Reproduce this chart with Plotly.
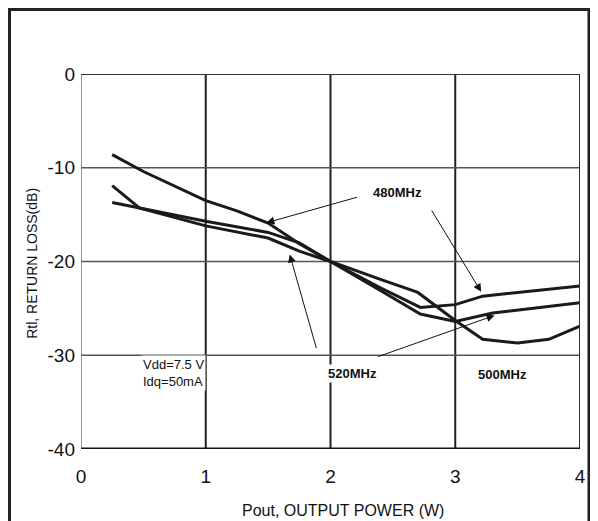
import plotly.graph_objects as go

# ---- data ----
x_480 = [0.25, 0.5, 1.0, 1.25, 1.5, 1.75, 2.0, 2.4, 2.72, 3.0, 3.22, 4.0]
y_480 = [-8.6, -10.4, -13.5, -14.6, -15.9, -18.1, -20.0, -22.8, -24.9, -24.6, -23.7, -22.6]

x_500 = [0.25, 0.47, 1.0, 1.5, 1.75, 2.0, 2.4, 2.7, 3.0, 3.22, 3.5, 3.75, 4.0]
y_500 = [-11.9, -14.3, -15.7, -16.9, -18.0, -20.0, -21.9, -23.3, -26.3, -28.3, -28.7, -28.3, -26.9]

x_520 = [0.25, 0.47, 1.0, 1.5, 1.75, 2.0, 2.4, 2.72, 3.0, 3.3, 4.0]
y_520 = [-13.7, -14.3, -16.2, -17.5, -18.9, -20.0, -23.1, -25.6, -26.4, -25.5, -24.4]

x_ticks = [0, 1, 2, 3, 4]
y_ticks = [0, -10, -20, -30, -40]

FONT = "Arial, Liberation Sans, sans-serif"
LINE = "#1a1a1a"

fig = go.Figure()
for xs, ys, name in [(x_480, y_480, "480MHz"), (x_500, y_500, "500MHz"), (x_520, y_520, "520MHz")]:
    fig.add_trace(go.Scatter(x=xs, y=ys, mode="lines", name=name,
                             line=dict(color=LINE, width=3), showlegend=False))

fig.update_xaxes(range=[0, 4], tickvals=x_ticks, ticktext=[str(v) for v in x_ticks],
                 showgrid=False, zeroline=False, showline=False, ticks="",
                 ticklabelstandoff=14,
                 tickfont=dict(family=FONT, size=19, color="#111"))
fig.update_yaxes(range=[-40, 0], tickvals=y_ticks, ticktext=[str(v) for v in y_ticks],
                 showgrid=False, zeroline=False, showline=False, ticks="",
                 ticklabelstandoff=5,
                 tickfont=dict(family=FONT, size=19, color="#111"))

shapes = []
# grid lines
for gx in [1, 2, 3]:
    shapes.append(dict(type="line", xref="x", yref="y", x0=gx, x1=gx, y0=-40, y1=0,
                       line=dict(color="#222", width=2), layer="below"))
for gy in [-10, -20, -30]:
    shapes.append(dict(type="line", xref="x", yref="y", x0=0, x1=4, y0=gy, y1=gy,
                       line=dict(color="#555", width=1.5), layer="below"))
# plot borders
shapes.append(dict(type="line", xref="x", yref="y", x0=0, x1=0, y0=-40, y1=0,
                   line=dict(color="#777", width=1.5)))
shapes.append(dict(type="line", xref="x", yref="y", x0=4, x1=4, y0=-40, y1=0,
                   line=dict(color="#333", width=2)))
shapes.append(dict(type="line", xref="x", yref="y", x0=0, x1=4, y0=0, y1=0,
                   line=dict(color="#333", width=2)))
shapes.append(dict(type="line", xref="x", yref="y", x0=0, x1=4, y0=-40, y1=-40,
                   line=dict(color="#111", width=3)))
# outer frame
shapes.append(dict(type="rect", xref="paper", yref="paper", x0=-0.1433, x1=1.018,
                   y0=-0.3, y1=1.172, line=dict(color="#222", width=3)))

annotations = []
lab_font_b = dict(family=FONT, size=13, color="#111")
annotations += [
    dict(x=2.535, y=-12.6, xref="x", yref="y", text="<b>480MHz</b>", showarrow=False,
         font=lab_font_b, bgcolor="white"),
    dict(x=2.18, y=-31.9, xref="x", yref="y", text="<b>520MHz</b>", showarrow=False,
         font=lab_font_b, bgcolor="white"),
    dict(x=3.38, y=-32.1, xref="x", yref="y", text="<b>500MHz</b>", showarrow=False,
         font=lab_font_b, bgcolor="white"),
    dict(x=0.48, y=-31.85, xref="x", yref="y", xanchor="left",
         text="Vdd=7.5 V<br>Idq=50mA", showarrow=False, align="left",
         font=dict(family=FONT, size=13, color="#111"), bgcolor="white"),
]
# arrows (head at x,y ; tail at ax,ay)
for hx, hy, tx, ty in [(1.486, -15.87, 2.225, -13.1),
                       (3.208, -23.24, 2.804, -14.4),
                       (1.673, -19.25, 1.89, -29.4),
                       (3.315, -25.75, 2.37, -30.2)]:
    annotations.append(dict(x=hx, y=hy, ax=tx, ay=ty, xref="x", yref="y",
                            axref="x", ayref="y", text="", showarrow=True,
                            arrowhead=2, arrowsize=1.6, arrowwidth=1, arrowcolor="#111"))
# axis titles
annotations.append(dict(x=0.525, y=-0.163, xref="paper", yref="paper",
                        xanchor="center", yanchor="middle",
                        text="Pout, OUTPUT POWER (W)", showarrow=False,
                        font=dict(family=FONT, size=16, color="#111")))
annotations.append(dict(x=-0.0972, y=0.495, xref="paper", yref="paper",
                        xanchor="center", yanchor="middle",
                        text="Rtl, RETURN LOSS(dB)", showarrow=False, textangle=-90,
                        font=dict(family=FONT, size=14, color="#111")))

fig.update_layout(width=590, height=513, margin=dict(l=73, r=18, t=66, b=72),
                  paper_bgcolor="white", plot_bgcolor="white",
                  shapes=shapes, annotations=annotations)

fig.write_html("out.html")
